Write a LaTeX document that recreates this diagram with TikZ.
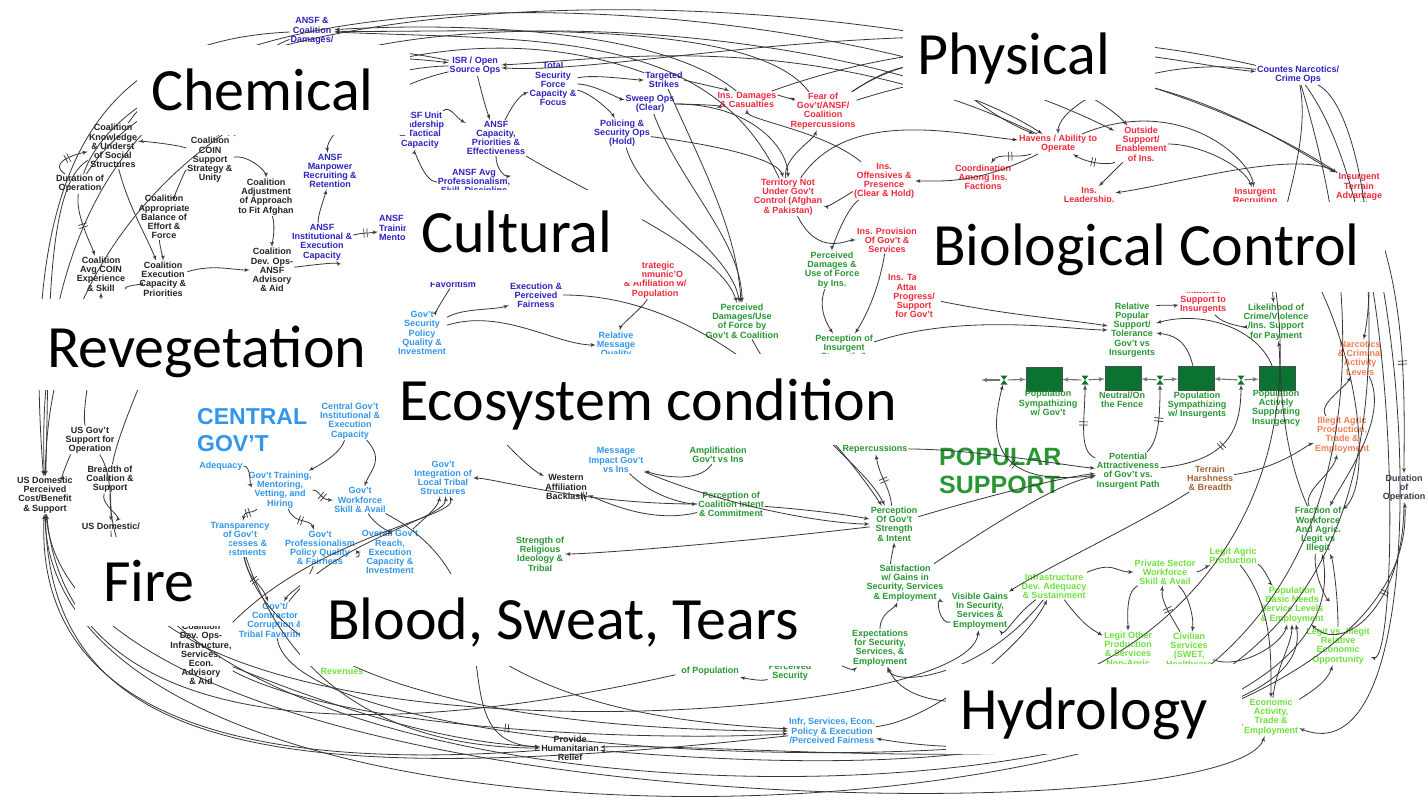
\documentclass[tikz,border=0pt]{standalone}
\usepackage{fontspec}
\setmainfont{Liberation Sans}
\newfontfamily\sectorfamily{Carlito}
\usetikzlibrary{arrows,decorations.markings}

\definecolor{ansfblue}{RGB}{45,35,190}
\definecolor{insred}{RGB}{240,40,60}
\definecolor{popgreen}{RGB}{40,150,50}
\definecolor{govblue}{RGB}{50,150,235}
\definecolor{econgreen}{RGB}{110,225,60}
\definecolor{narcorange}{RGB}{245,125,80}
\definecolor{terrainbrown}{RGB}{165,100,50}
\definecolor{stockgreen}{RGB}{10,115,50}
\definecolor{coalblack}{RGB}{35,35,35}
\definecolor{durgray}{RGB}{60,60,80}
\definecolor{linegray}{RGB}{55,55,55}

\tikzset{var/.style = {font=\bfseries\fontsize{9}{9.2}\selectfont,align=center,inner sep=1pt}}
\tikzset{coalvar/.style = {var,text=coalblack}}
\tikzset{ansfvar/.style = {var,text=ansfblue}}
\tikzset{insvar/.style = {var,text=insred}}
\tikzset{popvar/.style = {var,text=popgreen}}
\tikzset{govvar/.style = {var,text=govblue}}
\tikzset{econvar/.style = {var,text=econgreen}}
\tikzset{narcvar/.style = {var,text=narcorange}}
\tikzset{terrvar/.style = {var,text=terrainbrown}}
\tikzset{durvar/.style = {var,text=durgray}}
\tikzset{link/.style = {->,> = latex',draw=linegray,line width=0.8pt}}
\tikzset{flow/.style = {->,> = latex',draw=black!55,line width=1.1pt}}
\tikzset{lag/.style = {postaction={decorate,decoration={markings,mark=at position #1 with {\draw[-,line width=0.7pt] (-1.6pt,-4.5pt) -- (-1.6pt,4.5pt) (1.6pt,-4.5pt) -- (1.6pt,4.5pt);}}}},lag/.default=0.5}
\tikzset{stock/.style = {draw=black!70,fill=stockgreen,minimum width=36pt,minimum height=24pt,inner sep=0pt}}
\tikzset{valve/.style = {minimum width=7pt,minimum height=9pt,inner sep=0pt,path picture={\fill[stockgreen] (path picture bounding box.north west) -- (path picture bounding box.north east) -- (path picture bounding box.south west) -- (path picture bounding box.south east) -- cycle;}}}
\tikzset{sector/.style = {fill=white,inner sep=0pt,anchor=north west}}
\tikzset{sectortext/.style = {font=\sectorfamily\fontsize{60}{60}\selectfont,inner sep=0pt,anchor=base west}}

\begin{document}
\begin{tikzpicture}[x=1pt,y=-1pt]
\useasboundingbox (0,0) rectangle (1427,801);
\fill[white] (0,0) rectangle (1427,801);

\node[ansfvar] (ansfdam) at (312,31) {ANSF \&\\Coalition\\Damages/};
\node[ansfvar] (isr) at (475,66) {ISR / Open\\Source Ops};
\node[ansfvar] (tsf) at (553,84) {Total\\Security\\Force\\Capacity \&\\Focus};
\node[ansfvar] (strikes) at (664,80) {Targeted\\Strikes};
\node[ansfvar] (sweep) at (650,104) {Sweep Ops\\(Clear)};
\node[ansfvar] (policing) at (622,133) {Policing \&\\Security Ops\\(Hold)};
\node[ansfvar] (ansflead) at (420,130) {ANSF Unit\\Leadership\\\& Tactical\\Capacity};
\node[ansfvar] (ansfcap) at (496,138) {ANSF\\Capacity,\\Priorities \&\\Effectiveness};
\node[ansfvar] (ansfprof) at (474,182) {ANSF Avg\\Professionalism,\\Skill, Discipline};
\node[ansfvar] (narcops) at (1298,75) {Countes Narcotics/\\Crime Ops};

\node[insvar] (insdam) at (747,100) {Ins. Damages\\\& Casualties};
\node[insvar] (fear) at (823,111) {Fear of\\Gov't/ANSF/\\Coalition\\Repercussions};
\node[insvar] (terr) at (788,197) {Territory Not\\Under Gov't\\Control (Afghan\\\& Pakistan)};
\node[insvar] (insoff) at (884,181) {Ins.\\Offensives \&\\Presence\\(Clear \& Hold)};
\node[insvar] (havens) at (1058,144) {Havens / Ability to\\Operate};
\node[insvar] (coord) at (983,177) {Coordination\\Among Ins.\\Factions};
\node[insvar] (outside) at (1141,144) {Outside\\Support/\\Enablement\\of Ins.};
\node[insvar] (inslead) at (1089,196) {Ins.\\Leadership,};
\node[insvar] (recruit) at (1255,197) {Insurgent\\Recruiting};
\node[insvar] (terrain) at (1359,187) {Insurgent\\Terrain\\Advantage};
\node[insvar] (insprov) at (887,240) {Ins. Provision\\Of Gov't \&\\Services};
\node[popvar] (percdamins) at (832,270) {Perceived\\Damages \&\\Use of Force\\by Ins.};

\node[coalvar] (knowledge) at (113,146) {Coalition\\Knowledge\\\& Underst\\of Social\\Structures};
\node[coalvar] (coin) at (210,160) {Coalition\\COIN\\Support\\Strategy \&\\Unity};
\node[coalvar] (duration) at (80,184) {Duration of\\Operation};
\node[coalvar] (balance) at (164,217) {Coalition\\Appropriate\\Balance of\\Effort \&\\Force};
\node[coalvar] (adjust) at (266,197) {Coalition\\Adjustment\\of Approach\\to Fit Afghan};
\node[ansfvar] (manpower) at (330,171) {ANSF\\Manpower\\Recruiting \&\\Retention};
\node[ansfvar] (ansfinst) at (322,242) {ANSF\\Institutional \&\\Execution\\Capacity};
\node[ansfvar,anchor=west,align=left] (ansftrain) at (378,229) {ANSF\\Training\\Mentoring};
\node[coalvar] (devops) at (272,270) {Coalition\\Dev. Ops-\\ANSF\\Advisory\\\& Aid};
\node[coalvar] (avgcoin) at (101,274) {Coalition\\Avg COIN\\Experience\\\& Skill};
\node[coalvar] (execcap) at (163,279) {Coalition\\Execution\\Capacity \&\\Priorities};

\node[coalvar] (usgov) at (90,440) {US Gov't\\Support for\\Operation};
\node[coalvar] (breadth) at (110,479) {Breadth of\\Coalition \&\\Support};
\node[coalvar] (usdom) at (45,495) {US Domestic\\Perceived\\Cost/Benefit\\\& Support};
\node[coalvar] (usdom2) at (111,526) {US Domestic/};
\node[govvar,font=\bfseries\fontsize{23}{27}\selectfont,align=left,anchor=north west] (central) at (196,407) {CENTRAL\\GOV'T};
\node[govvar] (cgovinst) at (350,421) {Central Gov't\\Institutional \&\\Execution\\Capacity};
\node[govvar] (adequacy) at (221,466) {Adequacy};
\node[govvar] (govtrain) at (280,490) {Gov't Training,\\Mentoring,\\Vetting, and\\Hiring};
\node[govvar] (workforce) at (360,500) {Gov't\\Workforce\\Skill \& Avail};
\node[govvar] (transp) at (240,539) {Transparency\\of Gov't\\Processes \&\\Investments};
\node[govvar] (profpol) at (320,548) {Gov't\\Professionalism\\Policy Quality\\\& Fairness};
\node[govvar] (overall) at (390,552) {Overall Gov't\\Reach,\\Execution\\Capacity \&\\Investment};
\node[govvar] (corrupt) at (275,620) {Gov't/\\Contractor\\Corruption \&\\Tribal Favoritism};
\node[coalvar] (devinfra) at (201,654) {Coalition\\Dev. Ops-\\Infrastructure,\\Services,\\Econ.\\Advisory\\\& Aid};
\node[econvar] (revenues) at (342,671) {Revenues};
\node[coalvar] (relief) at (570,748) {Provide\\Humanitarian\\Relief};

\node[ansfvar] (execfair) at (536,295) {Execution \&\\Perceived\\Fairness};
\node[ansfvar] (favor) at (453,284) {Favoritism};
\node[govvar] (secpol) at (422,333) {Gov't\\Security\\Policy\\Quality \&\\Investment};
\node[insvar] (strategic) at (655,280) {Strategic\\Communic'O\\\& Affiliation w/\\Population};
\node[govvar] (relmsg) at (616,345) {Relative\\Message\\Quality};
\node[popvar] (percdamgov) at (742,321) {Perceived\\Damages/Use\\of Force by\\Gov't \& Coalition};
\node[popvar] (percins) at (844,352) {Perception of\\Insurgent\\Strength \&\\Intent};
\node[insvar] (instac) at (914,296) {Ins. Tactical\\Attacks,\\Progress/\\Support\\for Gov't};
\node[govvar] (message) at (616,460) {Message\\Impact Gov't\\vs Ins};
\node[coalvar] (western) at (566,487) {Western\\Affiliation\\Backlash};
\node[govvar] (tribal) at (443,478) {Gov't\\Integration of\\Local Tribal\\Structures};
\node[popvar] (religious) at (540,554) {Strength of\\Religious\\Ideology \&\\Tribal};
\node[popvar] (amplif) at (718,455) {Amplification\\Gov't vs Ins};
\node[popvar] (perccoal) at (731,504) {Perception of\\Coalition Intent\\\& Commitment};
\node[popvar] (repercuss) at (875,449) {Repercussions};
\node[popvar] (percgov) at (894,524) {Perception\\Of Gov't\\Strength\\\& Intent};
\node[popvar] (satisf) at (905,583) {Satisfaction\\w/ Gains in\\Security, Services\\\& Employment};
\node[popvar] (expect) at (880,648) {Expectations\\for Security,\\Services, \&\\Employment};
\node[popvar] (visible) at (980,611) {Visible Gains\\In Security,\\Services \&\\Employment};
\node[popvar] (percsec) at (790,672) {Perceived\\Security};
\node[popvar] (connect) at (710,667) {Connectedness\\of Population};
\node[govvar] (infr) at (832,731) {Infr, Services, Econ.\\Policy \& Execution\\/Perceived Fairness};

\node[popvar,font=\bfseries\fontsize{25}{28}\selectfont,align=left,anchor=north west] (popular) at (938,447) {POPULAR\\SUPPORT};
\node[stock] (sgov) at (1044,379) {};
\node[stock] (sneut) at (1123,378) {};
\node[stock] (sins) at (1196,378) {};
\node[stock] (sact) at (1277,378) {};
\node[popvar] (sgovlabel) at (1048,403) {Population\\Sympathizing\\w/ Gov't};
\node[popvar] (sneutlabel) at (1122,400) {Neutral/On\\the Fence};
\node[popvar] (sinslabel) at (1197,405) {Population\\Sympathizing\\w/ Insurgents};
\node[popvar] (sactlabel) at (1276,408) {Population\\Actively\\Supporting\\Insurgency};
\node[valve] (v0) at (1004,380) {};
\node[valve] (v1) at (1085,380) {};
\node[valve] (v2) at (1160,380) {};
\node[valve] (v3) at (1241,380) {};
\coordinate (cloudleft) at (981,380);
\node[popvar] (relpop) at (1132,330) {Relative\\Popular\\Support/\\Tolerance\\Gov't vs\\Insurgents};
\node[insvar] (material) at (1203,300) {Material\\Support to\\Insurgents};
\node[popvar] (likelihood) at (1276,322) {Likelihood of\\Crime/Violence\\/Ins. Support\\for Payment};
\node[popvar] (potential) at (1128,471) {Potential\\Attractiveness\\of Gov't vs.\\Insurgent Path};
\node[terrvar] (harsh) at (1210,478) {Terrain\\Harshness\\\& Breadth};
\node[narcvar] (narco) at (1360,358) {Narcotics\\\& Criminal\\Activity\\Levels};
\node[narcvar] (illegit) at (1342,435) {Illegit Agric\\Production,\\Trade \&\\Employment};
\node[durvar] (duration2) at (1404,488) {Duration\\of\\Operation};
\node[popvar] (fraction) at (1318,530) {Fraction of\\Workforce\\And Agric.\\Legit vs\\Illegit};
\node[econvar] (infra) at (1054,586) {Infrastructure\\Dev. Adequacy\\\& Sustainment};
\node[econvar] (privsec) at (1165,572) {Private Sector\\Workforce\\Skill \& Avail};
\node[econvar] (legitagric) at (1233,556) {Legit Agric\\Production};
\node[econvar] (basic) at (1292,605) {Population\\Basic Needs\\Service Levels\\\& Employment};
\node[econvar] (legitother) at (1128,650) {Legit Other\\Production\\\& Services\\Non-Agric};
\node[econvar] (civil) at (1189,650) {Civilian\\Services\\(SWET,\\Healthcare};
\node[econvar] (relopp) at (1338,646) {Legit vs. Illegit\\Relative\\Economic\\Opportunity};
\node[econvar] (econ) at (1271,717) {Economic\\Activity,\\Trade \&\\Employment};

\draw[link] (insdam) .. controls +(-90,-75) and +(130,-8) .. (ansfdam);
\draw[link] (fear) .. controls +(-70,-95) and +(170,2) .. (ansfdam);
\draw[link] (terr) .. controls +(-80,-170) and +(220,10) .. (ansfdam);
\draw[link] (ansfdam) .. controls +(-220,10) and +(-25,-320) .. (usdom);
\draw[link] (isr) .. controls +(-330,-70) and +(-10,-270) .. (usdom);
\draw[link] (strikes) .. controls +(-260,-95) and +(5,-360) .. (usdom);
\draw[link] (knowledge) .. controls +(-70,40) and +(5,-150) .. (usdom);
\draw[link] (havens) .. controls +(-250,-120) and +(120,-5) .. (isr);
\draw[link] (narcops) .. controls +(-350,-80) and +(150,10) .. (isr);
\draw[link] (isr) .. controls +(-100,0) and +(40,-40) .. (coin);
\draw[link] (isr) .. controls +(10,40) and +(-10,-30) .. (ansfcap);
\draw[link] (ansfcap) .. controls +(20,-40) and +(-30,10) .. (tsf);
\draw[link] (tsf) .. controls +(40,-10) and +(-30,0) .. (strikes);
\draw[link] (tsf) .. controls +(40,0) and +(-30,-5) .. (sweep);
\draw[link] (tsf) .. controls +(40,10) and +(-10,-20) .. (policing);
\draw[link] (ansflead) .. controls +(30,-25) and +(-40,-20) .. (ansfcap);
\draw[link] (ansfcap) .. controls +(0,30) and +(30,-5) .. (ansfprof);
\draw[link] (ansfprof) .. controls +(-50,0) and +(-5,20) .. (ansflead);
\draw[link] (strikes) .. controls +(20,0) and +(-20,-10) .. (insdam);
\draw[link] (sweep) .. controls +(30,0) and +(-20,5) .. (insdam);
\draw[link] (insdam) .. controls +(30,-5) and +(-25,-10) .. (fear);
\draw[link] (terr) .. controls +(-5,-40) and +(-10,30) .. (fear);
\draw[link] (insoff) .. controls +(-30,10) and +(40,10) .. (terr);
\draw[link] (policing) .. controls +(80,10) and +(-10,-40) .. (terr);
\draw[link] (sweep) .. controls +(100,0) and +(0,-50) .. (terr);
\draw[link] (insoff) .. controls +(-60,-50) and +(0,20) .. (insdam);
\draw[link] (terr) .. controls +(60,-90) and +(-100,-10) .. (havens);
\draw[link] (fear) .. controls +(120,-80) and +(-120,-50) .. (havens);
\draw[link] (narcops) .. controls +(-150,-20) and +(0,-40) .. (havens);
\draw[link,lag] (havens) .. controls +(-40,15) and +(15,-25) .. (coord);
\draw[link,lag] (outside) .. controls +(-30,21) and +(30,20) .. (havens);
\draw[link] (outside) .. controls +(-20,20) and +(10,-10) .. (inslead);
\draw[link] (fear) .. controls +(150,-100) and +(-30,-40) .. (outside);
\draw[link] (havens) .. controls +(-80,40) and +(60,0) .. (insoff);
\draw[link] (terr) .. controls +(30,60) and +(-40,0) .. (insprov);
\draw[link] (insoff) .. controls +(-40,30) and +(0,-20) .. (percdamins);
\draw[link] (insdam) .. controls +(250,-90) and +(-120,-10) .. (narcops);
\draw[link] (fear) .. controls +(280,-90) and +(-100,-60) .. (terrain);
\draw[link] (outside) .. controls +(60,0) and +(-10,-30) .. (recruit);
\draw[link] (havens) .. controls +(120,-50) and +(-5,-40) .. (recruit);
\draw[link] (terrain) .. controls +(-60,-40) and +(80,-10) .. (inslead);
\draw[link] (narcops) .. controls +(15,80) and +(-10,-80) .. (likelihood);
\draw[link] (narcops) .. controls +(60,30) and +(20,-100) .. (narco);
\draw[link] (knowledge) .. controls +(120,-180) and +(-320,-160) .. (outside);
\draw[link] (coin) .. controls +(60,-180) and +(-200,-130) .. (havens);
\draw[link] (duration) .. controls +(80,-230) and +(-350,-230) .. (terrain);

\draw[link] (coin) .. controls +(-30,-15) and +(30,-5) .. (knowledge);
\draw[link] (coin) .. controls +(40,-5) and +(0,-25) .. (adjust);
\draw[link] (coin) .. controls +(-25,10) and +(10,-20) .. (balance);
\draw[link] (adjust) .. controls +(10,30) and +(0,-25) .. (devops);
\draw[link] (balance) .. controls +(-5,25) and +(0,-20) .. (execcap);
\draw[link,lag] (duration) .. controls +(-5,30) and +(-10,-30) .. (avgcoin);
\draw[link,lag] (duration) .. controls +(-30,-20) and +(-45,10) .. (knowledge);
\draw[link] (avgcoin) .. controls +(20,12) and +(-20,5) .. (execcap);
\draw[link] (execcap) .. controls +(50,-15) and +(-40,0) .. (devops);
\draw[link] (ansfinst) .. controls +(-5,-25) and +(-5,25) .. (manpower);
\draw[link,lag] (ansfinst) .. controls +(45,-10) and +(-40,5) .. (ansftrain);
\draw[link] (devops) .. controls +(40,-5) and +(15,20) .. (ansfinst);
\draw[link] (isr) .. controls +(-90,20) and +(-5,-40) .. (manpower);
\draw[link] (ansfdam) .. controls +(-80,30) and +(30,-40) .. (coin);
\draw[link] (knowledge) .. controls +(15,60) and +(-15,-40) .. (execcap);
\draw[link] (duration) .. controls +(70,-110) and +(-160,-20) .. (isr);

\draw[link] (usgov) .. controls +(-20,15) and +(15,-15) .. (usdom);
\draw[link] (breadth) .. controls +(-10,25) and +(10,-10) .. (usdom2);
\draw[link] (usgov) .. controls +(20,30) and +(0,-30) .. (usdom2);
\draw[link] (usgov) .. controls +(-10,-30) and +(0,40) .. (avgcoin);
\draw[link] (breadth) .. controls +(10,-60) and +(10,40) .. (execcap);
\draw[link] (cgovinst) .. controls +(-10,35) and +(30,-20) .. (govtrain);
\draw[link,lag] (govtrain) .. controls +(40,0) and +(-40,0) .. (workforce);
\draw[link,lag] (govtrain) .. controls +(-30,25) and +(5,-30) .. (transp);
\draw[link,lag] (govtrain) .. controls +(15,35) and +(-10,-30) .. (profpol);
\draw[link] (cgovinst) .. controls +(35,40) and +(10,-30) .. (workforce);
\draw[link] (workforce) .. controls +(15,25) and +(0,-20) .. (overall);
\draw[link] (profpol) .. controls +(40,10) and +(-30,0) .. (overall);
\draw[link] (profpol) .. controls +(-15,40) and +(15,-30) .. (corrupt);
\draw[link,lag] (transp) .. controls +(10,45) and +(-15,-40) .. (corrupt);
\draw[link] (adequacy) .. controls +(30,0) and +(-30,-5) .. (govtrain);

\draw[link] (strikes) .. controls +(40,90) and +(-5,-90) .. (percdamgov);
\draw[link] (sweep) .. controls +(30,80) and +(0,-80) .. (percdamgov);
\draw[link] (policing) .. controls +(20,70) and +(-10,-70) .. (percdamgov);
\draw[link] (ansfcap) .. controls +(100,60) and +(-20,-70) .. (percdamgov);
\draw[link] (percdamins) .. controls +(-15,40) and +(-15,-25) .. (percins);
\draw[link] (insprov) .. controls +(-10,60) and +(15,-25) .. (percins);
\draw[link] (secpol) .. controls +(80,-25) and +(-60,0) .. (relmsg);
\draw[link] (strategic) .. controls +(-10,25) and +(5,-20) .. (relmsg);
\draw[link] (secpol) .. controls +(40,-25) and +(-40,15) .. (execfair);
\draw[link] (favor) .. controls +(-10,15) and +(10,-15) .. (secpol);
\draw[link] (execfair) .. controls +(180,0) and +(-60,-90) .. (percgov);
\draw[link] (amplif) .. controls +(-20,30) and +(40,15) .. (message);
\draw[link] (message) .. controls +(40,40) and +(-40,0) .. (perccoal);
\draw[link] (perccoal) .. controls +(-80,20) and +(40,15) .. (western);
\draw[link,lag] (perccoal) .. controls +(-150,0) and +(50,0) .. (tribal);
\draw[link] (secpol) .. controls +(60,90) and +(-40,-20) .. (western);
\draw[link] (overall) .. controls +(30,-30) and +(-5,30) .. (tribal);
\draw[link] (corrupt) .. controls +(60,-80) and +(5,40) .. (tribal);
\draw[link] (devinfra) .. controls +(120,-120) and +(15,40) .. (tribal);
\draw[link] (percgov) .. controls +(-170,20) and +(50,0) .. (religious);
\draw[link,lag] (percgov) .. controls +(-5,-40) and +(5,30) .. (repercuss);
\draw[link] (perccoal) .. controls +(70,5) and +(-50,-10) .. (percgov);
\draw[link] (message) .. controls +(120,50) and +(-60,0) .. (percgov);
\draw[link] (satisf) .. controls +(-15,-20) and +(0,20) .. (percgov);
\draw[link] (expect) .. controls +(0,-35) and +(-10,25) .. (satisf);
\draw[link] (visible) .. controls +(-40,15) and +(30,15) .. (satisf);
\draw[link] (percsec) .. controls +(35,-20) and +(-30,25) .. (expect);
\draw[link] (infra) .. controls +(-40,30) and +(25,25) .. (visible);
\draw[link] (infra) .. controls +(-70,90) and +(15,40) .. (expect);
\draw[link] (percdamgov) .. controls +(60,110) and +(-30,-60) .. (percgov);
\draw[link] (percsec) .. controls +(-30,10) and +(30,10) .. (connect);
\draw[link] (workforce) .. controls +(170,90) and +(-140,-5) .. (relief);

\draw[link] (usdom) .. controls +(0,420) and +(20,380) .. (duration2);
\draw[link] (breadth) .. controls +(0,380) and +(60,330) .. (fraction);
\draw[link] (corrupt) .. controls +(20,160) and +(40,200) .. (basic);
\draw[link,lag] (devinfra) .. controls +(150,80) and +(-160,10) .. (infr);
\draw[link] (transp) .. controls +(40,170) and +(-220,0) .. (infr);
\draw[link] (overall) .. controls +(100,140) and +(-200,-10) .. (infr);
\draw[link] (devinfra) .. controls +(150,60) and +(-120,-5) .. (relief);
\draw[link] (transp) .. controls +(60,180) and +(-130,0) .. (relief);
\draw[link] (econ) .. controls +(-220,60) and +(160,-5) .. (relief);
\draw[link] (infr) .. controls +(100,-10) and +(-30,60) .. (infra);
\draw[link] (relief) .. controls +(-330,25) and +(-10,220) .. (usdom);
\draw[link] (infr) .. controls +(-550,60) and +(5,260) .. (usdom);
\draw[link] (connect) .. controls +(-400,90) and +(20,220) .. (usdom);
\draw[link] (usdom) .. controls +(20,330) and +(-40,120) .. (econ);
\draw[link] (usdom2) .. controls +(0,250) and +(-10,120) .. (visible);

\draw[link] (terrain) .. controls +(60,500) and +(600,50) .. (relief);
\draw[link] (narcops) .. controls +(150,500) and +(350,60) .. (infr);
\draw[link] (recruit) .. controls +(130,450) and +(50,120) .. (expect);
\draw[link] (terrain) .. controls +(60,200) and +(150,60) .. (econ);
\draw[link] (narcops) .. controls +(110,150) and +(60,20) .. (relopp);
\draw[link] (recruit) .. controls +(100,100) and +(60,-50) .. (fraction);
\draw[link,lag=0.6] (terrain) .. controls +(50,100) and +(0,-80) .. (duration2);
\draw[link,lag] (duration2) .. controls +(0,120) and +(50,50) .. (basic);

\draw[flow] (v0) -- (cloudleft);
\draw[flow] (v0) -- (sgov);
\draw[flow] (v1) -- (sgov);
\draw[flow] (v1) -- (sneut);
\draw[flow] (v2) -- (sneut);
\draw[flow] (v2) -- (sins);
\draw[flow] (v3) -- (sins);
\draw[flow] (v3) -- (sact);
\draw[link,lag] (potential) .. controls +(-50,-20) and +(0,40) .. (v1);
\draw[link,lag] (potential) .. controls +(30,-30) and +(0,40) .. (v2);
\draw[link,lag] (potential) .. controls +(100,-10) and +(0,50) .. (v3);
\draw[link,lag] (potential) .. controls +(-150,20) and +(-10,40) .. (v0);
\draw[link] (percgov) .. controls +(100,-30) and +(-60,5) .. (potential);
\draw[link] (satisf) .. controls +(120,-80) and +(-60,10) .. (potential);
\draw[link] (repercuss) .. controls +(100,0) and +(-60,-5) .. (potential);
\draw[link] (sins) .. controls +(-10,-40) and +(40,5) .. (relpop);
\draw[link] (sact) .. controls +(-20,-50) and +(70,-20) .. (relpop);
\draw[link] (relpop) .. controls +(25,-25) and +(-25,5) .. (material);
\draw[link] (material) .. controls +(20,25) and +(-30,5) .. (likelihood);
\draw[link] (fraction) .. controls +(-40,-90) and +(5,40) .. (likelihood);
\draw[link] (percins) .. controls +(120,-40) and +(-60,0) .. (relpop);
\draw[link] (instac) .. controls +(100,20) and +(-60,-10) .. (relpop);
\draw[link] (harsh) .. controls +(70,-10) and +(-35,10) .. (illegit);
\draw[link] (fraction) .. controls +(-15,-40) and +(-10,40) .. (illegit);
\draw[link] (illegit) .. controls +(-25,-30) and +(-15,30) .. (narco);
\draw[link] (narco) .. controls +(30,60) and +(25,-50) .. (fraction);
\draw[link] (relopp) .. controls +(0,-50) and +(15,30) .. (fraction);
\draw[link] (fraction) .. controls +(-5,45) and +(35,-5) .. (basic);
\draw[link] (legitagric) .. controls +(30,10) and +(-20,-20) .. (basic);
\draw[link] (privsec) .. controls +(35,0) and +(-25,10) .. (legitagric);
\draw[link] (privsec) .. controls +(-40,20) and +(0,-30) .. (legitother);
\draw[link] (privsec) .. controls +(25,25) and +(5,-30) .. (civil);
\draw[link,lag] (civil) .. controls +(-15,-30) and +(-5,30) .. (privsec);
\draw[link] (infra) .. controls +(60,-25) and +(-50,0) .. (privsec);
\draw[link] (infra) .. controls +(30,40) and +(-35,-20) .. (legitother);
\draw[link] (civil) .. controls +(50,20) and +(-10,40) .. (basic);
\draw[link] (legitagric) .. controls +(40,50) and +(0,-60) .. (econ);
\draw[link] (econ) .. controls +(5,-50) and +(0,40) .. (basic);
\draw[link] (econ) .. controls +(40,-25) and +(-10,35) .. (relopp);
\draw[link] (harsh) .. controls +(-60,40) and +(60,-40) .. (visible);

\node[sector,minimum width=273,minimum height=90] (chembox) at (137,45) {};
\node[sectortext] (chemtext) at (151,110) {Chemical};
\node[sector,minimum width=252,minimum height=93] (physbox) at (903,7) {};
\node[sectortext] (phystext) at (917,74) {Physical};
\node[sector,minimum width=236,minimum height=92] (cultbox) at (406,190) {};
\node[sectortext] (culttext) at (421,252) {Cultural};
\node[sector,minimum width=469,minimum height=90] (biobox) at (916,202) {};
\node[sectortext] (biotext) at (933,265) {Biological Control};
\node[sector,minimum width=340,minimum height=91] (revegbox) at (35,299) {};
\node[sectortext] (revegtext) at (47,367) {Revegetation};
\node[sector,minimum width=595,minimum height=91] (ecobox) at (385,354) {};
\node[sectortext] (ecotext) at (399,420) {Ecosystem condition};
\node[sector,minimum width=154,minimum height=89] (firebox) at (75,537) {};
\node[sectortext] (firetext) at (103,601) {Fire};
\node[sector,minimum width=542,minimum height=92] (bloodbox) at (300,574) {};
\node[sectortext] (bloodtext) at (327,639) {Blood, Sweat, Tears};
\node[sector,minimum width=296,minimum height=90] (hydrobox) at (946,664) {};
\node[sectortext] (hydrotext) at (960,729) {Hydrology};

\end{tikzpicture}
\end{document}
